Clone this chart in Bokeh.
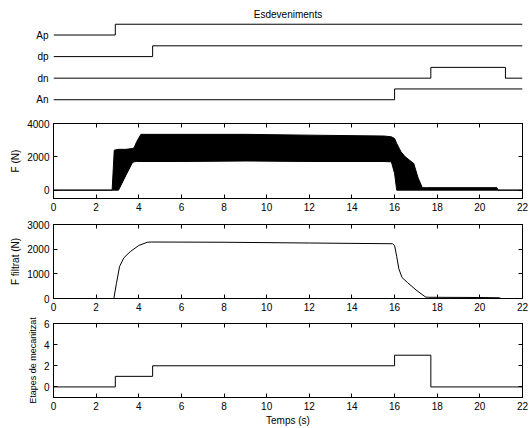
from bokeh.plotting import figure
from bokeh.layouts import column
from bokeh.models import LinearAxis, FixedTicker, Range1d
from bokeh.embed import file_html
from bokeh.resources import INLINE

FONT = "Liberation Sans"
FS = "10px"

# ---------------- data ----------------
x_ticks = [0, 2, 4, 6, 8, 10, 12, 14, 16, 18, 20, 22]

event_labels = ["An", "dn", "dp", "Ap"]
ap_t = [0, 2.9, 22]
ap_s = [0, 1, 1]
dp_t = [0, 4.65, 22]
dp_s = [0, 1, 1]
dn_t = [0, 17.7, 21.2, 22]
dn_s = [0, 1, 0, 0]
an_t = [0, 16.0, 22]
an_s = [0, 1, 1]

# raw force: envelope (min / max) of the fast oscillation
f_x = [0, 2.75, 2.85, 3.05, 3.4, 3.7, 3.78, 3.9, 4.1, 6, 9, 12, 15.5, 15.85,
       16.0, 16.1, 16.3, 16.5, 16.9, 17.1, 17.3, 17.5, 20.8, 20.85, 22]
f_upper = [0, 0, 2400, 2450, 2450, 2500, 2550, 2900, 3350, 3350, 3350, 3300, 3250, 3200,
           3100, 2800, 2300, 2000, 1600, 750, 150, 150, 150, 0, 0]
f_lower = [0, 0, 0, 0, 900, 1650, 1700, 1720, 1720, 1720, 1750, 1720, 1720, 1700,
           1000, 0, 0, 0, 0, 0, 0, 0, 0, 0, 0]

# filtered force
ff_x = [0, 2.83, 2.95, 3.1, 3.3, 3.6, 4.0, 4.4, 4.6, 8, 12, 15.9, 16.0, 16.1,
        16.2, 16.35, 16.6, 17.0, 17.45, 17.6, 20.0, 20.9, 21.0, 22]
ff_y = [0, 0, 600, 1300, 1650, 1900, 2150, 2280, 2290, 2280, 2250, 2220, 2150, 1700,
        1200, 850, 650, 350, 60, 50, 40, 30, 0, 0]

# machining stages
st_x = [0, 2.9, 4.65, 16.0, 17.7, 22]
st_y = [0, 1, 2, 3, 0, 0]

W = 529
ML, MR = 53, 7


def style_axes(p, yticks, ylabel, xlabel=None, ylabel_size=FS):
    p.outline_line_color = "black"
    p.outline_line_width = 1
    p.grid.visible = False
    p.background_fill_color = "white"
    p.border_fill_color = "white"
    p.xaxis.ticker = FixedTicker(ticks=x_ticks)
    p.yaxis.ticker = FixedTicker(ticks=yticks)
    for ax in p.xaxis + p.yaxis:
        ax.major_tick_in = 4
        ax.major_tick_out = 0
        ax.minor_tick_in = 0
        ax.minor_tick_out = 0
        ax.axis_line_color = "black"
        ax.major_tick_line_color = "black"
        ax.major_label_text_font = FONT
        ax.major_label_text_font_size = FS
        ax.major_label_text_color = "black"
        ax.axis_label_text_font = FONT
        ax.axis_label_text_font_size = FS
        ax.axis_label_text_font_style = "normal"
        ax.axis_label_text_color = "black"
        ax.major_label_standoff = 4
    p.yaxis.axis_label = ylabel
    p.yaxis.axis_label_standoff = 3
    p.yaxis.axis_label_text_font_size = ylabel_size
    if xlabel:
        p.xaxis.axis_label = xlabel
        p.xaxis.axis_label_standoff = 2
    # box ticks on top and right
    for loc, tk in (("above", x_ticks), ("right", yticks)):
        ax = LinearAxis(ticker=FixedTicker(ticks=tk))
        ax.major_label_text_font_size = "0px"
        ax.major_label_standoff = 0
        ax.major_tick_in = 4
        ax.major_tick_out = 0
        ax.minor_tick_in = 0
        ax.minor_tick_out = 0
        ax.axis_line_color = "black"
        p.add_layout(ax, loc)


# ---------------- events panel ----------------
p1 = figure(width=W, height=111, output_backend="svg", toolbar_location=None,
            x_range=Range1d(0, 22), y_range=Range1d(-0.36, 3.72),
            min_border_left=ML, min_border_right=MR, min_border_top=19, min_border_bottom=4)
p1.outline_line_color = None
p1.grid.visible = False
p1.xaxis.visible = False
p1.yaxis.ticker = FixedTicker(ticks=[0, 1, 2, 3])
p1.yaxis.major_label_overrides = {i: lab for i, lab in enumerate(event_labels)}
p1.yaxis.axis_line_color = None
p1.yaxis.major_tick_line_color = None
p1.yaxis.minor_tick_line_color = None
p1.yaxis.major_tick_in = 0
p1.yaxis.major_tick_out = 0
p1.yaxis.major_label_standoff = 5
p1.yaxis.major_label_text_font = FONT
p1.yaxis.major_label_text_font_size = FS
p1.yaxis.major_label_text_color = "black"

# panel title as an (invisible) top axis label, centred over the frame
title_ax = LinearAxis(ticker=FixedTicker(ticks=[]))
title_ax.axis_line_color = None
title_ax.major_tick_line_color = None
title_ax.minor_tick_line_color = None
title_ax.major_tick_in = 0
title_ax.major_tick_out = 0
title_ax.major_label_text_font_size = "0px"
title_ax.major_label_standoff = 0
title_ax.axis_label = "Esdeveniments"
title_ax.axis_label_standoff = 0
title_ax.axis_label_text_font = FONT
title_ax.axis_label_text_font_size = FS
title_ax.axis_label_text_font_style = "normal"
title_ax.axis_label_text_color = "black"
p1.add_layout(title_ax, "above")

STEP_H = 0.5
for base, (t, s) in enumerate([(an_t, an_s), (dn_t, dn_s), (dp_t, dp_s), (ap_t, ap_s)]):
    p1.step(t, [base + STEP_H * v for v in s], mode="after", line_color="black", line_width=1)

# ---------------- raw force ----------------
p2 = figure(width=W, height=105, output_backend="svg", toolbar_location=None,
            x_range=Range1d(0, 22), y_range=Range1d(-500, 4000),
            min_border_left=ML, min_border_right=MR, min_border_top=12, min_border_bottom=18)
p2.varea(x=f_x, y1=f_lower, y2=f_upper, fill_color="black")
p2.line(f_x, f_upper, line_color="black", line_width=1)
p2.line(f_x, f_lower, line_color="black", line_width=1)
style_axes(p2, [0, 2000, 4000], "F (N)")

# ---------------- filtered force ----------------
p3 = figure(width=W, height=98, output_backend="svg", toolbar_location=None,
            x_range=Range1d(0, 22), y_range=Range1d(0, 3000),
            min_border_left=ML, min_border_right=MR, min_border_top=8, min_border_bottom=16)
p3.line(ff_x, ff_y, line_color="black", line_width=1)
style_axes(p3, [0, 1000, 2000, 3000], "F filtrat (N)")

# ---------------- stages ----------------
p4 = figure(width=W, height=114, output_backend="svg", toolbar_location=None,
            x_range=Range1d(0, 22), y_range=Range1d(-1, 6),
            min_border_left=ML, min_border_right=MR, min_border_top=9, min_border_bottom=30)
p4.step(st_x, st_y, mode="after", line_color="black", line_width=1)
style_axes(p4, [0, 2, 4, 6], "Etapes de mecanitzat", "Temps (s)", ylabel_size="9px")

layout = column(p1, p2, p3, p4, spacing=0)
open("out.html", "w").write(file_html(layout, INLINE))
